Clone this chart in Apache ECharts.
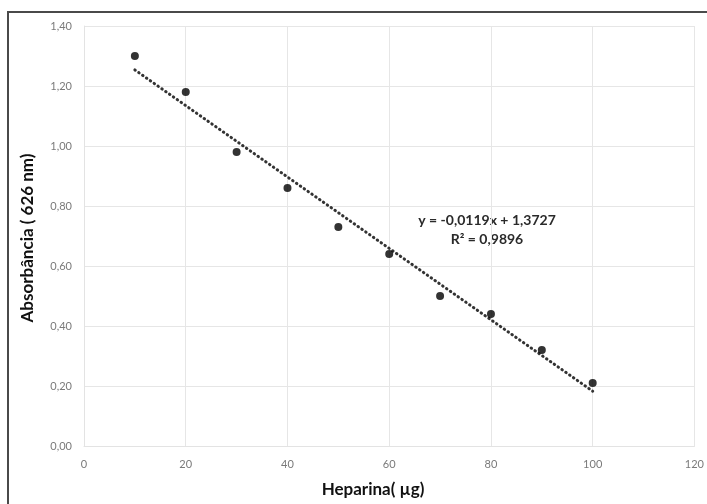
<!DOCTYPE html>
<html>
<head>
<meta charset="utf-8">
<script src="https://cdn.jsdelivr.net/npm/echarts@6/dist/echarts.min.js"></script>
<style>
html,body{margin:0;padding:0;background:#fff;}
#chart{width:707px;height:504px;}
</style>
</head>
<body>
<div id="chart"></div>
<script>
// Data
var heparina = [10, 20, 30, 40, 50, 60, 70, 80, 90, 100];
var absorbancia = [1.30, 1.18, 0.98, 0.86, 0.73, 0.64, 0.50, 0.44, 0.32, 0.21];
// Linear trendline endpoints (y = -0.0119x + 1.3727)
var trendX = [10, 100];
var trendY = [1.2537, 0.1827];
var equationText = 'y = -0,0119x + 1,3727';
var r2Text = 'R² = 0,9896';
var xName = 'Heparina( µg)';
var yName = 'Absorbância ( 626 nm)';

var chart = echarts.init(document.getElementById('chart'));
var fontFam = 'Lato, "Open Sans", sans-serif';
chart.setOption({
  animation: false,
  backgroundColor: '#fff',
  grid: { left: 84, right: 11, top: 26, bottom: 58 },
  xAxis: {
    type: 'value', min: 0, max: 120, interval: 20,
    axisLine: { show: true, lineStyle: { color: '#e3e3e3', width: 1 } },
    axisTick: { show: false },
    axisLabel: { color: '#7a7a7a', fontFamily: fontFam, fontSize: 11, margin: 13 },
    splitLine: { show: true, lineStyle: { color: '#e6e6e6', width: 1 } }
  },
  yAxis: {
    type: 'value', min: 0, max: 1.4, interval: 0.2,
    axisLine: { show: true, lineStyle: { color: '#e3e3e3', width: 1 } },
    axisTick: { show: false },
    axisLabel: { color: '#7a7a7a', fontFamily: fontFam, fontSize: 11, margin: 12,
      formatter: function (v) { return v.toFixed(2).replace('.', ','); } },
    splitLine: { show: true, lineStyle: { color: '#e6e6e6', width: 1 } }
  },
  series: [
    {
      type: 'line',
      data: trendX.map(function (x, i) { return [x, trendY[i]]; }),
      symbol: 'none',
      lineStyle: { color: '#333', width: 3, type: [0.5, 4.2], cap: 'round' },
      z: 2
    },
    {
      type: 'scatter',
      data: heparina.map(function (x, i) { return [x, absorbancia[i]]; }),
      symbol: 'circle', symbolSize: 8,
      itemStyle: { color: '#000' },
      z: 3
    }
  ],
  graphic: [
    { type: 'rect', shape: { x: 8, y: 12, width: 720, height: 520 },
      style: { fill: 'none', stroke: '#4a4a4a', lineWidth: 2 }, silent: true },
    { type: 'text', x: 487, y: 220,
      style: { text: equationText, fill: '#2a2a2a', font: 'bold 14px ' + fontFam, align: 'center', verticalAlign: 'middle' } },
    { type: 'text', x: 487, y: 239,
      style: { text: r2Text, fill: '#2a2a2a', font: 'bold 14px ' + fontFam, align: 'center', verticalAlign: 'middle' } },
    { type: 'text', x: 373, y: 490,
      style: { text: xName, fill: '#111', font: 'bold 17px ' + fontFam, align: 'center', verticalAlign: 'middle' } },
    { type: 'text', x: 28, y: 238, rotation: Math.PI / 2,
      style: { text: yName, fill: '#111', font: 'bold 17px ' + fontFam, align: 'center', verticalAlign: 'middle' } }
  ]
});
</script>
</body>
</html>
